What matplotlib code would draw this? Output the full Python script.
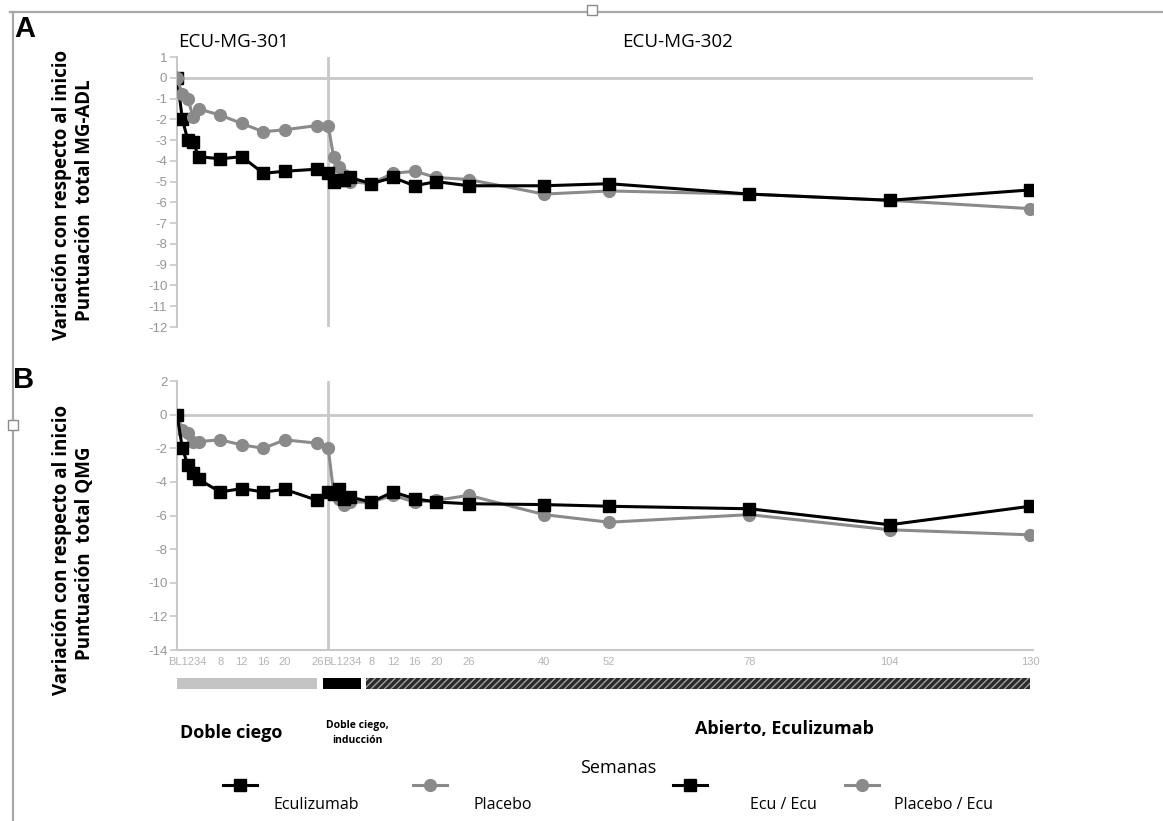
import matplotlib
matplotlib.use("Agg")
import matplotlib.pyplot as plt
from matplotlib.lines import Line2D
from matplotlib.patches import Rectangle

plt.rcParams['font.family'] = ['Open Sans', 'DejaVu Sans']
plt.rcParams['hatch.linewidth'] = 1.0

# weeks of each study, placed side by side on one axis
weeks_301 = [0, 1, 2, 3, 4, 8, 12, 16, 20, 26]
weeks_302 = [0, 1, 2, 3, 4, 8, 12, 16, 20, 26, 40, 52, 78, 104, 130]
offset_302 = 28

# A: MG-ADL change from baseline
adl_ecu_301 = [0, -2.0, -3.0, -3.1, -3.8, -3.9, -3.8, -4.6, -4.5, -4.4]
adl_pbo_301 = [0, -0.8, -1.0, -1.9, -1.5, -1.8, -2.2, -2.6, -2.5, -2.3]
adl_ecu_302 = [-4.6, -5.0, -4.9, -4.9, -4.8, -5.1, -4.8, -5.2, -5.0, -5.2, -5.2, -5.1, -5.6, -5.9, -5.4]
adl_pbo_302 = [-2.3, -3.8, -4.3, -4.7, -5.0, -5.1, -4.6, -4.5, -4.8, -4.9, -5.6, -5.45, -5.6, -5.9, -6.3]

# B: QMG change from baseline
qmg_ecu_301 = [0, -2.0, -3.0, -3.5, -3.85, -4.6, -4.4, -4.6, -4.45, -5.1]
qmg_pbo_301 = [0, -0.9, -1.1, -1.6, -1.6, -1.5, -1.8, -2.0, -1.5, -1.7]
qmg_ecu_302 = [-4.6, -4.7, -4.4, -5.0, -4.9, -5.2, -4.6, -5.0, -5.2, -5.3, -5.35, -5.45, -5.6, -6.55, -5.45]
qmg_pbo_302 = [-2.0, -4.6, -5.0, -5.4, -5.2, -5.2, -4.8, -5.2, -5.1, -4.8, -5.95, -6.4, -5.95, -6.85, -7.15]

# x tick labels (BL..4 crammed together as in the original)
tick_weeks_301 = [2, 8, 12, 16, 20, 26]
tick_labels_301 = ['BL1234', '8', '12', '16', '20', '26']
tick_weeks_302 = [2.6, 8, 12, 16, 20, 26, 40, 52, 78, 104, 130]
tick_labels_302 = ['BL1234', '8', '12', '16', '20', '26', '40', '52', '78', '104', '130']

# study phases (axis units)
phase_names = ['Doble ciego', 'Doble ciego,\ninducción', 'Abierto, Eculizumab']
phase_start = [0, 27, 35]
phase_end = [26, 34, 158]

BLACK = '#000000'
GREY = '#8a8a8a'
AXC = '#c8c8c8'

W, H = 1163, 821
fig = plt.figure(figsize=(W / 100, H / 100), dpi=100)


def fx(px):
    return px / W


def fy(py):
    return 1 - py / H


XMAX = 158.6
x_left = 177
x_right = 177 + XMAX * 5.40

x301 = list(weeks_301)
x302 = [w + offset_302 for w in weeks_302]


def draw_series(ax, y301, y302, color, marker, ms, lw, z):
    ax.plot(x301, y301, color=color, marker=marker, ms=ms, lw=lw, zorder=z)
    ax.plot([x301[-1], x302[0]], [y301[-1], y302[0]], color=color, lw=lw, zorder=z)
    ax.plot(x302, y302, color=color, marker=marker, ms=ms, lw=lw, zorder=z + 0.5)


def setup(ax, ymin, ymax, step):
    ax.set_xlim(0, XMAX)
    ax.set_ylim(ymin, ymax)
    for s in ['top', 'right', 'bottom']:
        ax.spines[s].set_visible(False)
    ax.spines['left'].set_color(AXC)
    ax.spines['left'].set_linewidth(1.5)
    ax.set_yticks(range(ymin, ymax + 1, step))
    ax.set_yticklabels([str(v) for v in range(ymin, ymax + 1, step)],
                       family=['Liberation Sans', 'DejaVu Sans'])
    ax.tick_params(axis='y', colors=AXC, labelcolor='#969696', labelsize=9.5, length=5, width=1.2, pad=2)
    ax.axhline(0, color=AXC, lw=2, zorder=1)
    ax.axvline(offset_302, color=AXC, lw=2, zorder=1)
    ax.patch.set_alpha(0)


# panel A
axA = fig.add_axes([fx(x_left), fy(327), fx(x_right - x_left), fy(57) - fy(327)])
setup(axA, -12, 1, 1)
axA.set_xticks([])
draw_series(axA, adl_ecu_301, adl_ecu_302, BLACK, 's', 9, 2.2, 3)
axA.plot(x301, adl_pbo_301, color=GREY, marker='o', ms=8.5, lw=2.2, zorder=4)
axA.plot([x301[-1], x302[0]], [adl_pbo_301[-1], adl_pbo_302[0]], color=GREY, lw=2.2, zorder=2)
axA.plot(x302, adl_pbo_302, color=GREY, marker='o', ms=8.5, lw=2.2, zorder=2)

# panel B
axB = fig.add_axes([fx(x_left), fy(650), fx(x_right - x_left), fy(381) - fy(650)])
setup(axB, -14, 2, 2)
axB.spines['bottom'].set_visible(True)
axB.spines['bottom'].set_color(AXC)
axB.spines['bottom'].set_linewidth(1.5)
draw_series(axB, qmg_pbo_301, qmg_pbo_302, GREY, 'o', 8.5, 2.2, 2)
draw_series(axB, qmg_ecu_301, qmg_ecu_302, BLACK, 's', 9, 2.2, 3)
axB.set_xticks(tick_weeks_301 + [w + offset_302 for w in tick_weeks_302])
axB.set_xticklabels(tick_labels_301 + tick_labels_302,
                    family=['Liberation Sans', 'DejaVu Sans'])
axB.tick_params(axis='x', length=0, labelsize=8, labelcolor='#b4b4b4', pad=5)

# phase bars
axP = fig.add_axes([fx(x_left), fy(689), fx(x_right - x_left), fy(678) - fy(689)])
axP.set_xlim(0, XMAX)
axP.set_ylim(0, 1)
axP.axis('off')
axP.barh(0.5, phase_end[0] - phase_start[0], left=phase_start[0], height=1,
         color='#c4c4c4', lw=0)
axP.barh(0.5, phase_end[1] - phase_start[1], left=phase_start[1], height=1,
         color='#000000', lw=0)
axP.barh(0.5, phase_end[2] - phase_start[2], left=phase_start[2], height=1,
         facecolor='#2a2a2a', edgecolor='#a0a0a0', hatch='/////', lw=0)

fig.text(fx(180), fy(733), phase_names[0], fontsize=13, fontweight='bold', va='center', ha='left')
fig.text(fx(357), fy(733), phase_names[1], fontsize=7.5, fontweight='bold', va='center', ha='center',
         linespacing=1.5)
fig.text(fx(695), fy(729), phase_names[2], fontsize=13, fontweight='bold', va='center', ha='left')

# titles and panel letters
fig.text(fx(178), fy(42), 'ECU-MG-301', fontsize=13.5, va='center', ha='left')
fig.text(fx(622), fy(42), 'ECU-MG-302', fontsize=13.5, va='center', ha='left')
fig.text(fx(25), fy(29), 'A', fontsize=21, fontweight='bold', va='center', ha='center',
         family=['Liberation Sans', 'DejaVu Sans'])
fig.text(fx(24), fy(380), 'B', fontsize=21, fontweight='bold', va='center', ha='center',
         family=['Liberation Sans', 'DejaVu Sans'])

# y labels
for cy, cy2, name in [(195, 200, 'Puntuación  total MG-ADL'), (550, 553, 'Puntuación  total QMG')]:
    fig.text(fx(62), fy(cy), 'Variación con respecto al inicio', rotation=90, fontsize=13.5,
             fontweight='bold', va='center', ha='center')
    fig.text(fx(85), fy(cy2), name, rotation=90, fontsize=13.5,
             fontweight='bold', va='center', ha='center')

# legend drawn by hand (markers above, labels below, as in the original)
fig.text(fx(618), fy(768), 'Semanas', fontsize=13, va='center', ha='center')
legend_items = [('Eculizumab', BLACK, 's', 240, 316),
                ('Placebo', GREY, 'o', 430, 503),
                ('Ecu / Ecu', BLACK, 's', 690, 783),
                ('Placebo / Ecu', GREY, 'o', 862, 943)]
for label, col, mk, mx, lx in legend_items:
    fig.add_artist(Line2D([fx(mx - 17), fx(mx + 17)], [fy(785), fy(785)], color=col, lw=2.2,
                          transform=fig.transFigure))
    fig.add_artist(Line2D([fx(mx)], [fy(785)], color=col, marker=mk, ms=9 if mk == 's' else 8.5,
                          lw=0, transform=fig.transFigure))
    fig.text(fx(lx), fy(805), label, fontsize=11.5, va='center', ha='center')

# page frame from the original document
fig.add_artist(Line2D([fx(10), 1], [fy(12), fy(12)], color='#a8a8a8', lw=1.6, transform=fig.transFigure))
fig.add_artist(Line2D([fx(13), fx(13)], [fy(12), 0], color='#a8a8a8', lw=1.6, transform=fig.transFigure))
for cx, cy in [(592, 10), (13, 425)]:
    fig.add_artist(Rectangle((fx(cx - 5), fy(cy + 5)), fx(10), fy(0) - fy(10), facecolor='white',
                             edgecolor='#8a8a8a', lw=1, transform=fig.transFigure, zorder=5))

fig.savefig('out.png', dpi=100)
